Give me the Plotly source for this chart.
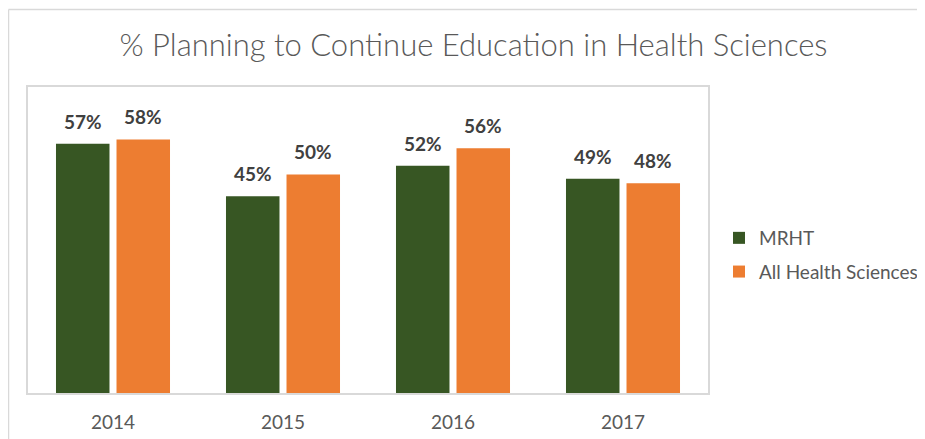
import plotly.graph_objects as go

years = ["2014", "2015", "2016", "2017"]
mrht = [57, 45, 52, 49]
all_hs = [58, 50, 56, 48]
series_names = ["MRHT", "All Health Sciences"]
colors = ["#375623", "#ED7D31"]

FONT = "Lato"
OFF = 8  # page body margin
W, H = 925 - OFF, 439 - OFF
L, T = 28 - OFF, 87 - OFF
R, B = W - (708 - OFF), H - (393 - OFF)
pw, ph = W - L - R, H - T - B

fig = go.Figure()
for i, (name, vals) in enumerate(zip(series_names, [mrht, all_hs])):
    fig.add_trace(go.Bar(
        x=years, y=vals, name=name, marker=dict(color=colors[i], line=dict(width=0)),
        legendgroup=name,
    ))

annotations = []
for i, vals in enumerate([mrht, all_hs]):
    for j, v in enumerate(vals):
        annotations.append(dict(
            x=j, y=v, text=f"{v}%", showarrow=False, xref="x", yref="y",
            xshift=-30 if i == 0 else 30, yanchor="bottom", yshift=9,
            font=dict(family=FONT, size=19, color="#404040", weight="bold"),
        ))

def px(xw):  # window x -> paper
    return (xw - OFF - L) / pw

def py(yw):  # window y -> paper
    return (H + OFF - B - yw) / ph

shapes = [
    dict(type="line", xref="paper", yref="paper", x0=px(8.5), x1=px(940), y0=py(9.5), y1=py(9.5),
         line=dict(color="#d9d9d9", width=1.5)),
    dict(type="line", xref="paper", yref="paper", x0=px(8.5), x1=px(8.5), y0=py(9.5), y1=py(460),
         line=dict(color="#d9d9d9", width=1.5)),
]

fig.update_layout(
    width=W, height=H,
    margin=dict(l=L, r=R, t=T, b=B, autoexpand=False),
    paper_bgcolor="white", plot_bgcolor="white",
    title=dict(text="% Planning to Continue Education in Health Sciences", x=px(473.5), xref="paper",
               xanchor="center", y=1 - (45 - OFF) / H, yanchor="middle",
               font=dict(family=FONT, size=31, color="#595959", weight=300)),
    barmode="group", bargap=0.288, bargroupgap=0.116,
    xaxis=dict(type="category", range=[-0.5, 3.5], showline=True, linecolor="#d9d9d9", linewidth=1.5,
               mirror=True, ticks="", ticklabelstandoff=11,
               tickfont=dict(family=FONT, size=19, color="#595959"), showgrid=False),
    yaxis=dict(range=[0, 70], showline=True, linecolor="#d9d9d9", linewidth=1.5, mirror=True,
               showticklabels=False, showgrid=False, zeroline=False, ticks=""),
    legend=dict(x=px(719), xanchor="left", y=py(255), yanchor="middle",
                font=dict(family=FONT, size=19, color="#595959"),
                traceorder="grouped", tracegroupgap=6, bgcolor="rgba(0,0,0,0)"),
    annotations=annotations,
    shapes=shapes,
    showlegend=True,
)

fig.write_html("out.html")
